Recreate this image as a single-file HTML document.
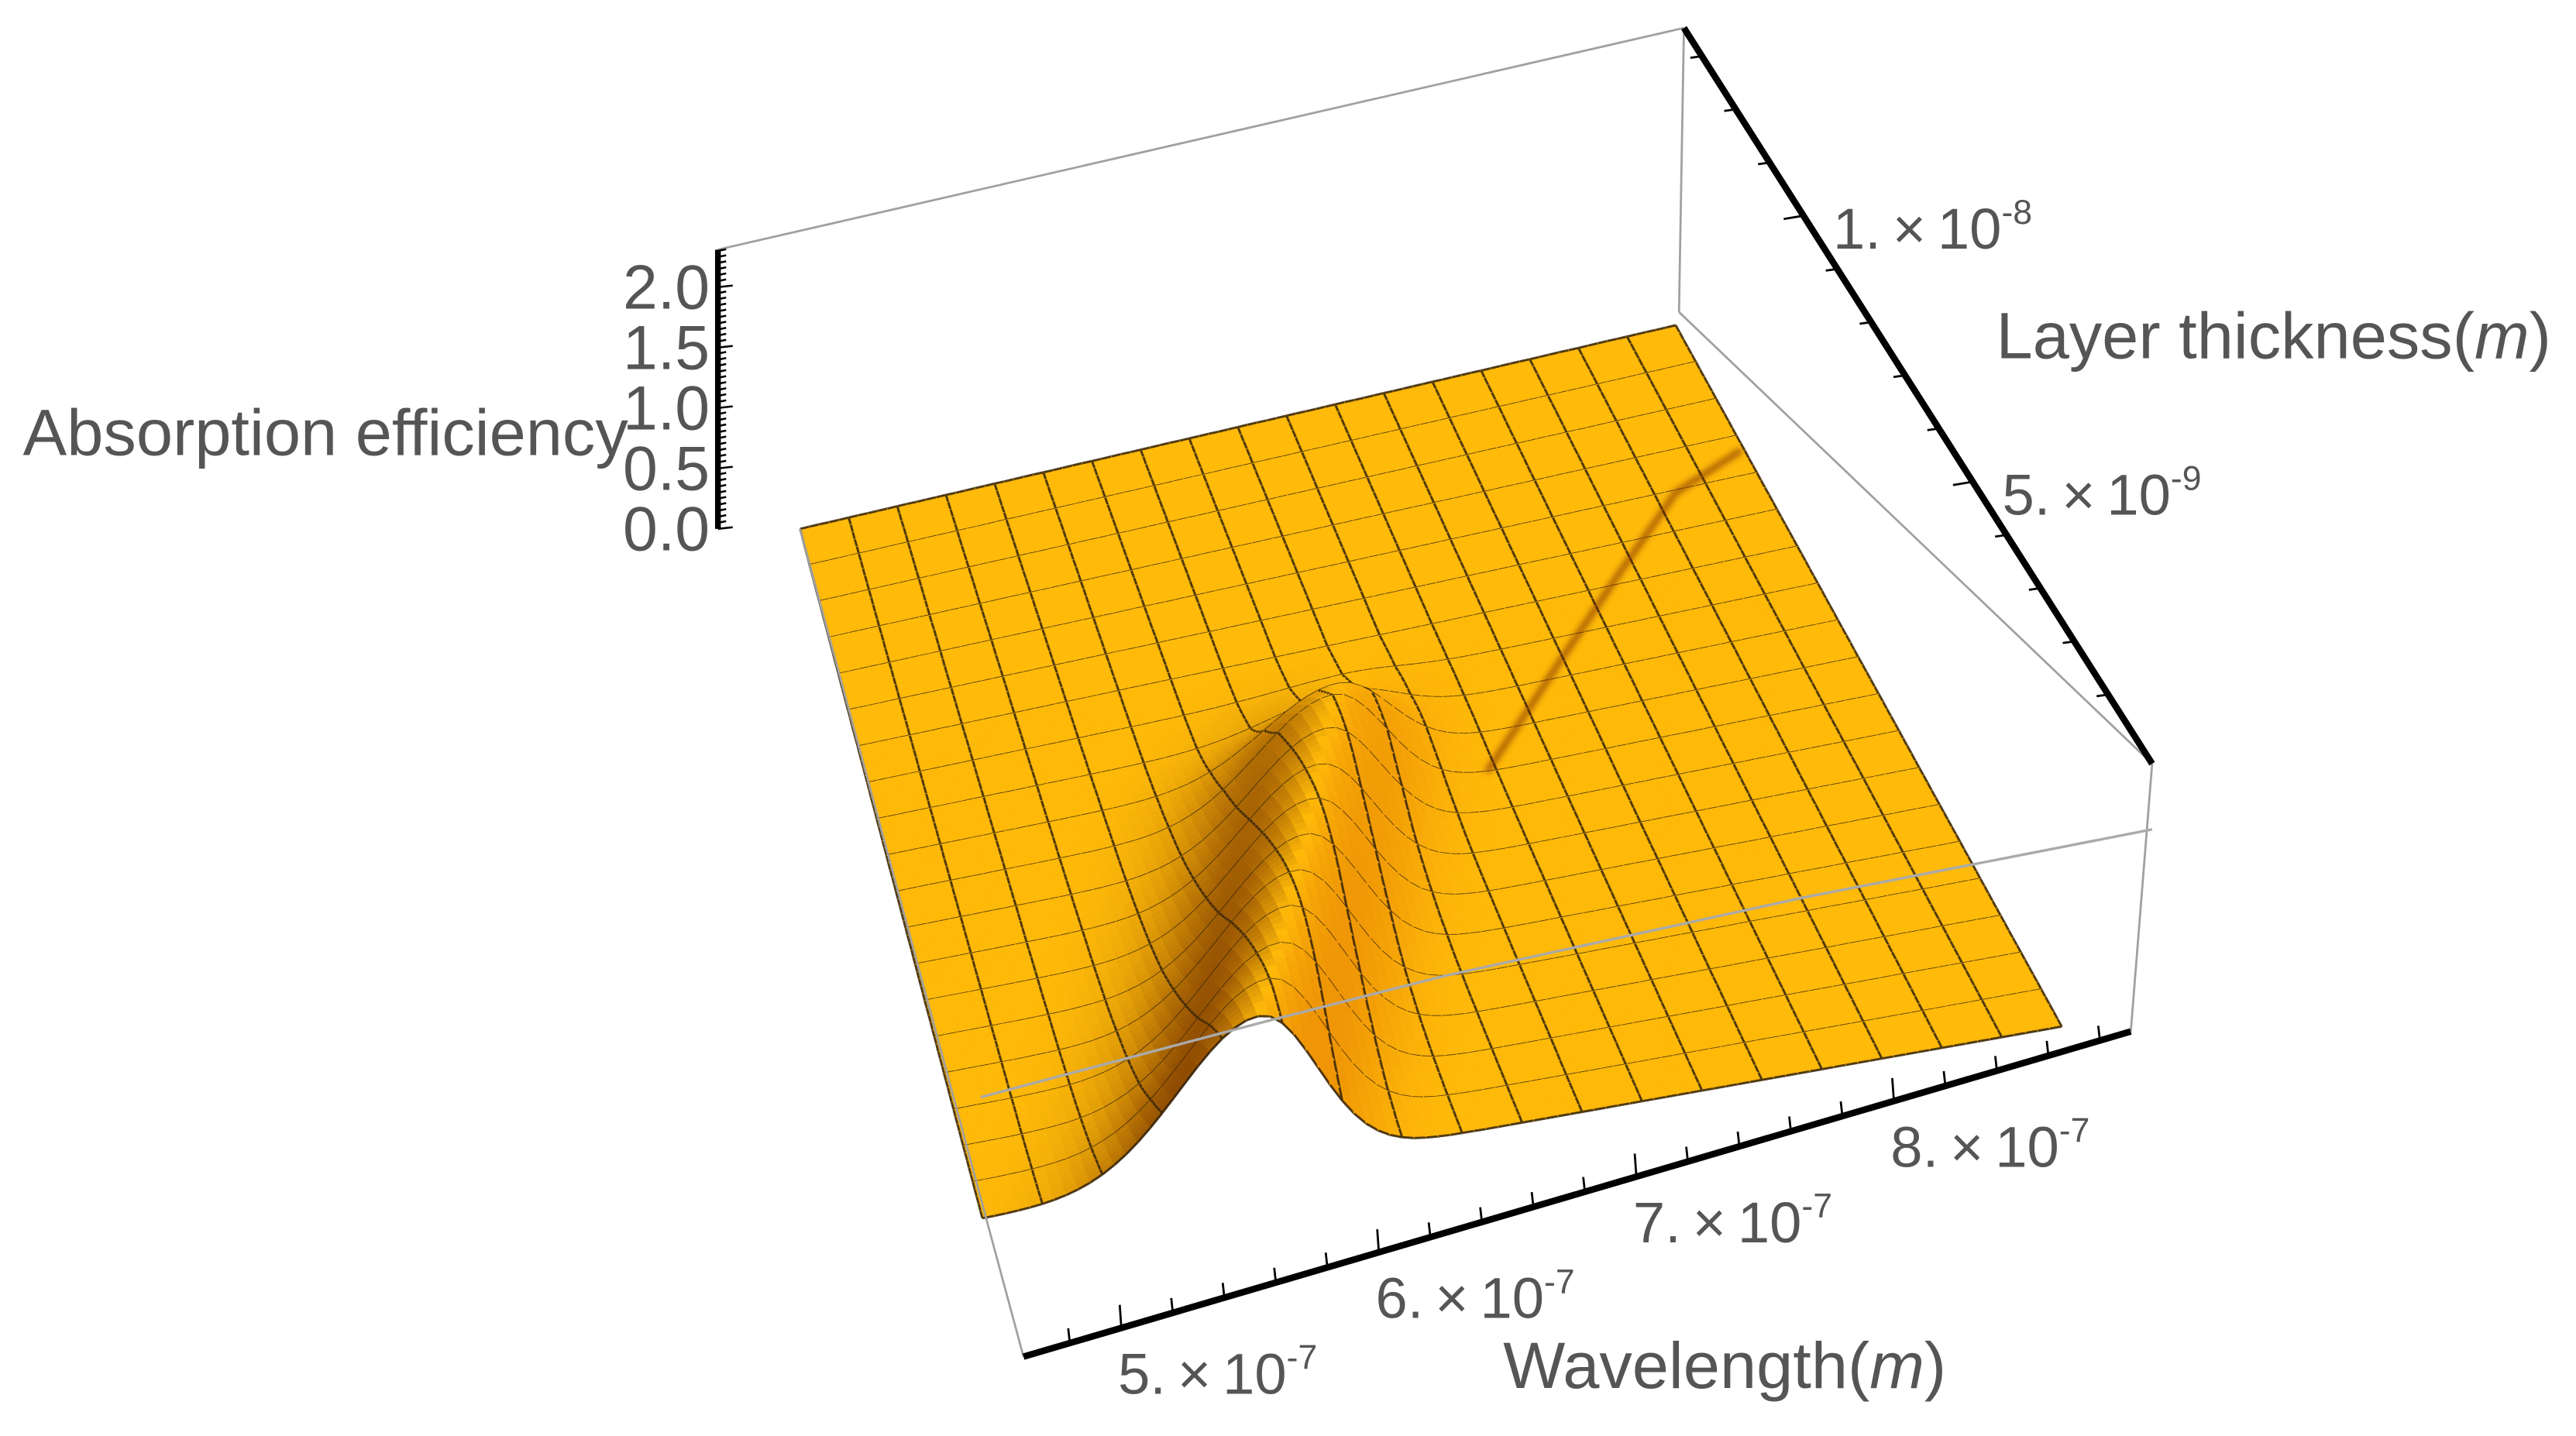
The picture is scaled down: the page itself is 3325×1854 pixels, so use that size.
<!DOCTYPE html>
<html><head><meta charset="utf-8"><title>Absorption efficiency surface</title>
<style>
html,body{margin:0;padding:0;background:#fff;}
svg{display:block;}
text{font-family:"Liberation Sans",Arial,sans-serif;fill:#555;}
</style></head>
<body>
<svg id="chart" width="3325" height="1854" viewBox="0 0 1568 874.3" preserveAspectRatio="none" xmlns="http://www.w3.org/2000/svg">
<defs><filter id="blur" x="-20%" y="-20%" width="140%" height="140%"><feGaussianBlur stdDeviation="1.8"/></filter></defs>
<g id="box-back" stroke="#a0a0a0" stroke-width="1.3" fill="none">
<line x1="437" y1="152" x2="1025" y2="17"/>
<line x1="1025" y1="17" x2="1022" y2="190"/>
</g>
<g id="surface"></g>
<g id="box-front" stroke="#a0a0a0" stroke-width="1.3" fill="none">
<line x1="487" y1="322" x2="623" y2="826"/>
<line x1="1022" y1="190" x2="1310" y2="465"/>
<line x1="1310" y1="465" x2="1297" y2="628"/>
<polyline points="597,668 770,622 880,594 1100,546 1310,505" stroke="#aaa" stroke-width="1.6"/>
</g>
<path d="M905,470 L925,440 L950,402 L985,350 L1020,300 L1060,274" stroke="#7a2a00" stroke-width="4" fill="none" opacity="0.6" filter="url(#blur)"/>
<g id="axes"></g>
<g font-size="40">
<text x="14" y="277">Absorption efficiency</text>
<text x="1215" y="218">Layer thickness(<tspan font-style="italic">m</tspan>)</text>
<text x="915" y="845">Wavelength(<tspan font-style="italic">m</tspan>)</text>
</g>
<g id="ticklabels" font-size="35"></g>
</svg>
<script>
// ---- data ----
const axisWavelengthRange = [462e-9, 892e-9];
const surfaceWavelengthNm = [450, 850];
const thicknessRange = [-0.3e-9, 1.353e-8];
const zAxisMax = 2.31;
const zTickLabels = ["0.0","0.5","1.0","1.5","2.0"];
const zTickValues = [0, 0.5, 1.0, 1.5, 2.0];
const xTickValues = [5e-7, 6e-7, 7e-7, 8e-7];
const xTickMantissa = ["5.","6.","7.","8."];
const xTickExp = ["-7","-7","-7","-7"];
const yTickValues = [5e-9, 1e-8];
const yTickMantissa = ["5.","1."];
const yTickExp = ["-9","-8"];
// ridge amplitude (absorption efficiency) per thickness row, front (0) to back
const ridgeAmp = [1.27,1.24,1.2,1.17,1.13,1.09,1.05,1.0,0.96,0.9,0.66,0.26,0.07,0,0,0,0,0,0,0];
// ridge center wavelength (nm) per thickness row
const ridgeCenter = [553,561,570,578,586,595,603,611,620,628,636,645,653,661,670,678,686,695,703,711];
const ridgeSigmaLeft = 30; // nm
const ridgeSigmaRight = 21; // nm

// ---- projection ----
const TL=[487,322], TR=[1020,198], BR=[1255,625], BL=[598,742];
const Z0=[437,322], Z1=[437,152];
const zScale = (Z0[1]-Z1[1])/zAxisMax;
function proj(u,v,z){
  const fx=BL[0]+(BR[0]-BL[0])*u, fy=BL[1]+(BR[1]-BL[1])*u;
  const bx=TL[0]+(TR[0]-TL[0])*u, by=TL[1]+(TR[1]-TL[1])*u;
  return [fx+(bx-fx)*v, fy+(by-fy)*v - z*zScale];
}
function rowVal(arr,v){
  const p=v*(arr.length-1), i=Math.min(arr.length-2,Math.floor(p)), t=p-i;
  return arr[i]*(1-t)+arr[i+1]*t;
}
function height(u,v){
  const nm=surfaceWavelengthNm[0]+(surfaceWavelengthNm[1]-surfaceWavelengthNm[0])*u;
  const a=rowVal(ridgeAmp,v), c=rowVal(ridgeCenter,v);
  const d=(nm-c)/(nm<c?ridgeSigmaLeft:ridgeSigmaRight);
  return a*Math.exp(-0.5*d*d);
}
const NS='http://www.w3.org/2000/svg';
const surf=document.getElementById('surface');
const COLS=18, ROWS=19, SU=5, SV=5;
const nu=COLS*SU, nv=ROWS*SV;
function P(i,j){const u=i/nu,v=j/nv;return proj(u,v,height(u,v));}
let html='';
for(let j=nv-1;j>=0;j--){
  for(let i=0;i<nu;i++){
    const a=P(i,j),b=P(i+1,j),c=P(i+1,j+1),d=P(i,j+1);
    const u0=i/nu,u1=(i+1)/nu,vm=(j+0.5)/nv;
    const s=(height(u1,vm)-height(u0,vm))/(u1-u0);
    let r=255,g=186,bl=10;
    if(s>0){const k=Math.min(1,s/11)*0.8;r=r+(105-r)*k;g=g+(38-g)*k;bl=bl+(0-bl)*k;}
    else {const k=Math.min(1,-s/14)*0.4;r=r+(215-r)*k;g=g+(95-g)*k;bl=bl+(0-bl)*k;}
    const col=`rgb(${r|0},${g|0},${bl|0})`;
    html+=`<polygon points="${a[0].toFixed(1)},${a[1].toFixed(1)} ${b[0].toFixed(1)},${b[1].toFixed(1)} ${c[0].toFixed(1)},${c[1].toFixed(1)} ${d[0].toFixed(1)},${d[1].toFixed(1)}" fill="${col}" stroke="${col}" stroke-width="0.6"/>`;
    let ln='';
    if(i%SU===0) ln+=`M${a[0].toFixed(1)},${a[1].toFixed(1)}L${d[0].toFixed(1)},${d[1].toFixed(1)}`;
    if(i===nu-1) ln+=`M${b[0].toFixed(1)},${b[1].toFixed(1)}L${c[0].toFixed(1)},${c[1].toFixed(1)}`;
    if(j%SV===0) ln+=`M${a[0].toFixed(1)},${a[1].toFixed(1)}L${b[0].toFixed(1)},${b[1].toFixed(1)}`;
    if(j===nv-1) ln+=`M${d[0].toFixed(1)},${d[1].toFixed(1)}L${c[0].toFixed(1)},${c[1].toFixed(1)}`;
    if(ln) html+=`<path d="${ln}" stroke="#33220a" stroke-width="1.4" fill="none" opacity="0.85"/>`;
  }
}
surf.innerHTML=html;

// ---- axes ----
const axes=document.getElementById('axes');
const labels=document.getElementById('ticklabels');
function line(x1,y1,x2,y2,w,name){
  const l=document.createElementNS(NS,'line');
  l.setAttribute('x1',x1);l.setAttribute('y1',y1);l.setAttribute('x2',x2);l.setAttribute('y2',y2);
  l.setAttribute('stroke','#000');l.setAttribute('stroke-width',w);
  
  
  axes.appendChild(l);
}
// z axis
line(Z0[0],Z0[1],Z1[0],Z1[1],3.5,'z-axis-line');
function zY(z){return Z0[1]-z*zScale;}
for(let k=0;k<=46;k++){
  const z=k*0.05, y=zY(z), major=(k%10===0);
  line(437,y,437+(major?9:5),y-1,1.2,'z-tick');
}
zTickValues.forEach((z,i)=>{
  const t=document.createElementNS(NS,'text');
  t.setAttribute('x',432);t.setAttribute('y',zY(z)+13);t.setAttribute('text-anchor','end');
  t.setAttribute('font-size','38');
  t.textContent=zTickLabels[i];
  
  
  labels.appendChild(t);
});
// wavelength axis
const X0=[623,826], X1=[1297,628];
line(X0[0],X0[1],X1[0],X1[1],4,'x-axis-line');
function xPt(w){const t=(w-axisWavelengthRange[0])/(axisWavelengthRange[1]-axisWavelengthRange[0]);return [X0[0]+(X1[0]-X0[0])*t,X0[1]+(X1[1]-X0[1])*t];}
for(let k=0;k<=21;k++){
  const w=(480+k*20)*1e-9;
  if(w>axisWavelengthRange[1]) break;
  const p=xPt(w), major=((480+k*20)%100===0);
  line(p[0],p[1],p[0]-1,p[1]-(major?14:9),1.3,'x-tick');
}
function sciLabel(x,y,m,e,name){
  const t=document.createElementNS(NS,'text');
  t.setAttribute('x',x);t.setAttribute('y',y);
  t.innerHTML=`${m}\u2009×\u200910<tspan font-size="21" dy="-15">${e}</tspan>`;
  
  
  labels.appendChild(t);
}
xTickValues.forEach((w,i)=>{const p=xPt(w);sciLabel(p[0]-2,p[1]+40,xTickMantissa[i],xTickExp[i],'x-tick-label');});
// thickness axis
const Y0=[1310,465], Y1=[1025,17];
line(Y0[0],Y0[1],Y1[0],Y1[1],4,'y-axis-line');
function yPt(th){const t=(th-thicknessRange[0])/(thicknessRange[1]-thicknessRange[0]);return [Y0[0]+(Y1[0]-Y0[0])*t,Y0[1]+(Y1[1]-Y0[1])*t];}
for(let k=1;k<=13;k++){
  const th=k*1e-9, p=yPt(th), major=(k===5||k===10);
  line(p[0],p[1],p[0]-(major?12:7),p[1]+(major?2:1),1.3,'y-tick');
}
yTickValues.forEach((th,i)=>{const p=yPt(th);sciLabel(p[0]+18,p[1]+20,yTickMantissa[i],yTickExp[i],'y-tick-label');});
</script>
</body></html>
